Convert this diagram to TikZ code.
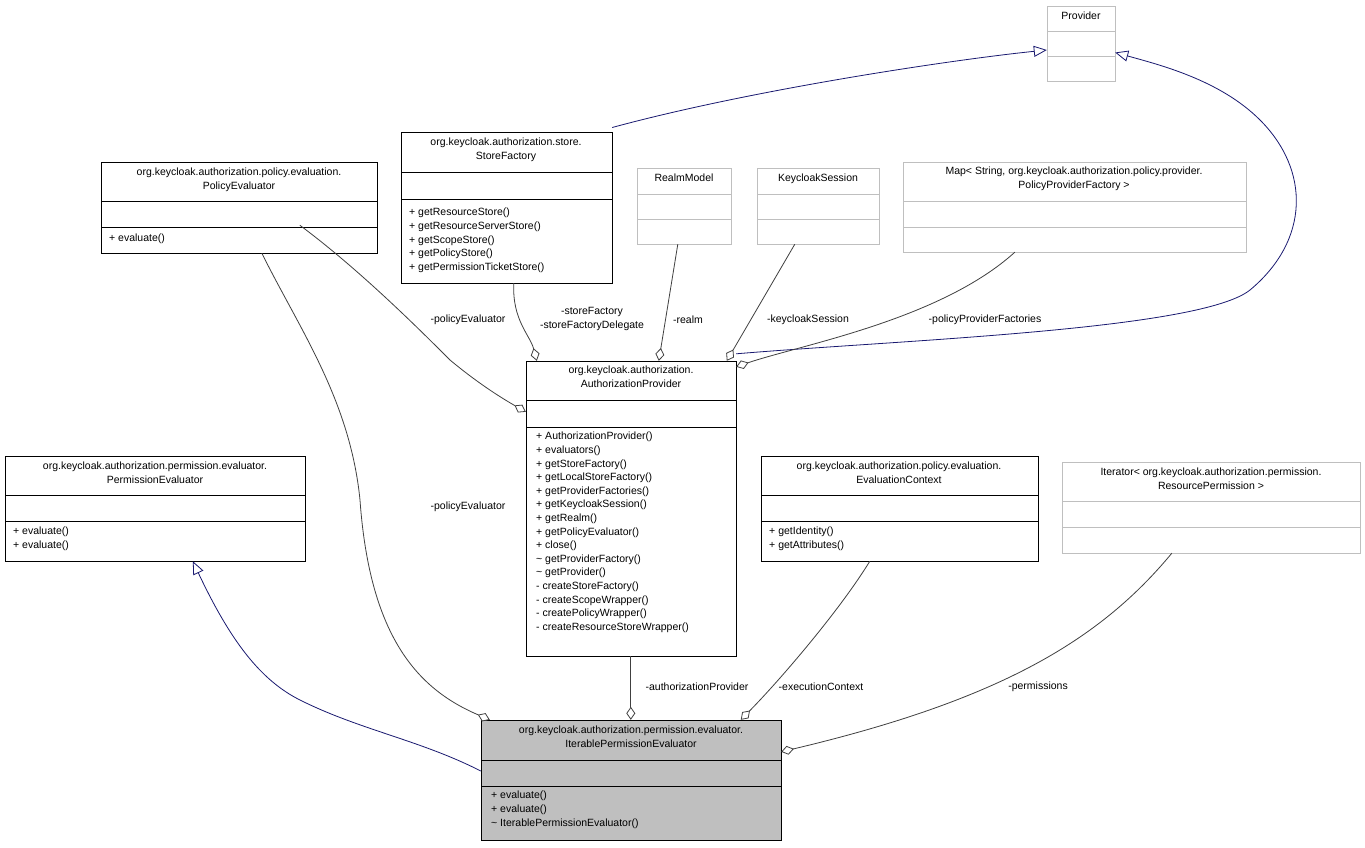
\documentclass[tikz,border=0pt]{standalone}
\usepackage{fontspec}
\setmainfont{Liberation Sans}
\usetikzlibrary{arrows.meta,fit,calc}
\definecolor{inh}{RGB}{25,25,112}
\definecolor{agg}{RGB}{64,64,64}
\definecolor{lg}{RGB}{191,191,191}
\definecolor{ipe}{RGB}{191,191,191}
\tikzset{
 txt/.style={inner sep=0pt,font=\fontsize{10.5}{13.6}\selectfont},
 ttl/.style={txt,align=center,anchor=north},
 mth/.style={txt,align=left,anchor=north west},
 lbl/.style={txt,fill=white,inner sep=1pt},
 aggline/.style={draw=agg,line width=0.8pt,-{Diamond[open,fill=white,length=13pt,width=9pt]}},
 inhline/.style={draw=inh,line width=0.8pt,-{Triangle[open,fill=white,length=13pt,width=11pt]}},
}
% name l t r b s1 s2 border fill
\newcommand\ubox[9]{%
 \path[draw=#8,fill=#9,line width=0.8pt] (#2,#3) rectangle (#4,#5);
 \draw[#8,line width=0.8pt] (#2,#6) -- (#4,#6) (#2,#7) -- (#4,#7);
 \node[fit={(#2,#3)(#4,#5)},inner sep=0pt] (#1) {};}
\begin{document}
\begin{tikzpicture}[x=1pt,y=-1pt]
\useasboundingbox[fill=white] (0,0) rectangle (1365,847);
\ubox{prov}{1047}{6}{1115}{81}{31}{56}{lg}{white}
\node[ttl] at (1081,12) {Provider};
\ubox{sf}{401}{132}{612}{283}{172}{199}{black}{white}
\node[ttl] at (506,138) {org.keycloak.authorization.store.\\StoreFactory};
\node[mth] at (409,208) {+ getResourceStore()\\+ getResourceServerStore()\\+ getScopeStore()\\+ getPolicyStore()\\+ getPermissionTicketStore()};
\ubox{pe}{101}{162}{377}{253}{201}{227}{black}{white}
\node[ttl] at (239,168) {org.keycloak.authorization.policy.evaluation.\\PolicyEvaluator};
\node[mth] at (109,234) {+ evaluate()};
\ubox{rm}{637}{168}{731}{244}{194}{219}{lg}{white}
\node[ttl] at (684,174) {RealmModel};
\ubox{ks}{757}{168}{879}{244}{194}{219}{lg}{white}
\node[ttl] at (818,174) {KeycloakSession};
\ubox{map}{903}{162}{1246}{252}{201}{227}{lg}{white}
\node[ttl] at (1074,167) {Map< String, org.keycloak.authorization.policy.provider.\\PolicyProviderFactory >};
\ubox{ap}{526}{361}{736}{656}{400}{427}{black}{white}
\node[ttl] at (631,366) {org.keycloak.authorization.\\AuthorizationProvider};
\node[mth] at (536,432) {+ AuthorizationProvider()\\+ evaluators()\\+ getStoreFactory()\\+ getLocalStoreFactory()\\+ getProviderFactories()\\+ getKeycloakSession()\\+ getRealm()\\+ getPolicyEvaluator()\\+ close()\\\textasciitilde{} getProviderFactory()\\\textasciitilde{} getProvider()\\- createStoreFactory()\\- createScopeWrapper()\\- createPolicyWrapper()\\- createResourceStoreWrapper()};
\ubox{perm}{5}{456}{305}{561}{495}{521}{black}{white}
\node[ttl] at (155,462) {org.keycloak.authorization.permission.evaluator.\\PermissionEvaluator};
\node[mth] at (13,527) {+ evaluate()\\+ evaluate()};
\ubox{ec}{761}{456}{1038}{561}{495}{521}{black}{white}
\node[ttl] at (899,462) {org.keycloak.authorization.policy.evaluation.\\EvaluationContext};
\node[mth] at (769,527) {+ getIdentity()\\+ getAttributes()};
\ubox{it}{1062}{462}{1360}{553}{501}{527}{lg}{white}
\node[ttl] at (1211,468) {Iterator< org.keycloak.authorization.permission.\\ResourcePermission >};
\ubox{ipe}{481}{720}{781}{840}{760}{786}{black}{ipe}
\node[ttl] at (631,726) {org.keycloak.authorization.permission.evaluator.\\IterablePermissionEvaluator};
\node[mth] at (491,791) {+ evaluate()\\+ evaluate()\\\textasciitilde{} IterablePermissionEvaluator()};
% inheritance
\draw[inhline] ([yshift=5pt]sf.east) ++(0,-75) .. controls (750,90) and (950,60) .. ([yshift=-6.5pt]prov.west);
\draw[inhline] ([yshift=7pt]ap.north east) .. controls (900,340) and (1200,330) .. (1250,290) .. controls (1310,240) and (1310,170) .. (1260,120) .. controls (1220,80) and (1160,65) .. ([yshift=-9pt]prov.east);
\draw[inhline] ([yshift=9pt]ipe.west) .. controls (420,740) and (360,730) .. (300,700) .. controls (260,680) and (230,640) .. ($(perm.south west)+(188,0)$);
% aggregation
\draw[aggline] ($(pe.south west)+(199,-28)$) .. controls (360,270) and (420,330) .. (450,360) .. controls (480,385) and (505,400) .. ($(ap.north west)+(0,51)$);
\node[lbl] at (468,320) {-policyEvaluator};
\draw[aggline] ($(sf.south west)+(113,0)$) .. controls (512,320) and (530,335) .. ($(ap.north west)+(11,0)$);
\node[lbl,align=center] at (592,319) {-storeFactory\\-storeFactoryDelegate};
\draw[aggline] ($(rm.south west)+(41,0)$) -- ($(ap.north west)+(133,0)$);
\node[lbl] at (688,320) {-realm};
\draw[aggline] ($(ks.south west)+(38,0)$) -- ($(ap.north west)+(201,0)$);
\node[lbl] at (808,320) {-keycloakSession};
\draw[aggline] ($(map.south west)+(112,0)$) .. controls (940,320) and (800,345) .. ($(ap.north east)+(0,6)$);
\node[lbl] at (985,320) {-policyProviderFactories};
\draw[aggline] ($(pe.south west)+(161,0)$) .. controls (300,330) and (350,400) .. (360,500) .. controls (370,640) and (420,690) .. ($(ipe.north west)+(9,0)$);
\node[lbl] at (468,507) {-policyEvaluator};
\draw[aggline] ($(ap.south west)+(105,0)$) -- ($(ipe.north west)+(150,0)$);
\node[lbl] at (697,687) {-authorizationProvider};
\draw[aggline] ($(ec.south west)+(109,0)$) .. controls (840,610) and (780,680) .. ($(ipe.north west)+(260,0)$);
\node[lbl] at (821,687) {-executionContext};
\draw[aggline] ($(it.south west)+(110,0)$) .. controls (1100,640) and (1000,700) .. ($(ipe.north east)+(0,32)$);
\node[lbl] at (1038,687) {-permissions};
\end{tikzpicture}
\end{document}
